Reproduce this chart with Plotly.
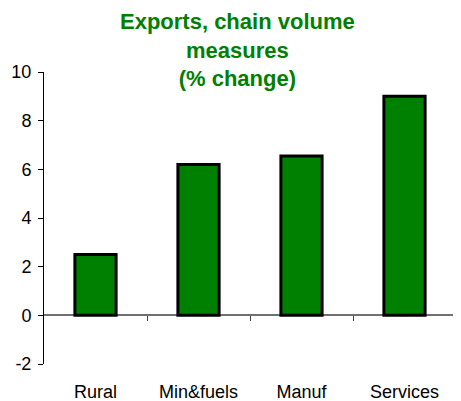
import plotly.graph_objects as go

categories = ["Rural", "Min&fuels", "Manuf", "Services"]
values = [2.5, 6.2, 6.55, 9.0]
y_ticks = [-2, 0, 2, 4, 6, 8, 10]
y_tick_labels = ["-2", "0", "2", "4", "6", "8", "10"]
boundaries = [0.5, 1.5, 2.5, 3.5]
title_text = "<b>Exports, chain volume<br>measures<br>(% change)</b>"

y_min, y_max = -2, 10
font_family = "Liberation Sans, Arial, sans-serif"

fig = go.Figure()
fig.add_trace(go.Bar(
    x=categories, y=values, width=0.4,
    marker=dict(color="#008000", line=dict(color="black", width=3)),
    hoverinfo="skip",
))
# helper trace so the zero-line category axis is drawn
fig.add_trace(go.Scatter(x=[], y=[], xaxis="x2", yaxis="y", showlegend=False, hoverinfo="skip"))

zero_pos = (0 - y_min) / (y_max - y_min)

fig.update_layout(
    width=461, height=401,
    margin=dict(l=36, r=13, t=64, b=45),
    paper_bgcolor="white", plot_bgcolor="white",
    showlegend=False,
    font=dict(family=font_family, size=18, color="black"),
    xaxis=dict(
        type="category", range=[-0.5, 3.5], automargin=False,
        showline=False, showgrid=False, zeroline=False,
        ticks="outside", ticklen=11, tickcolor="rgba(0,0,0,0)",
        tickfont=dict(size=18),
    ),
    xaxis2=dict(
        type="linear", range=[-0.5, 3.5], overlaying="x",
        anchor="free", position=zero_pos, automargin=False,
        showline=True, linecolor="#707070", linewidth=1.5,
        showgrid=False, zeroline=False, layer="below traces",
        tickvals=boundaries, ticks="outside", ticklen=5, tickcolor="#404040",
        showticklabels=False,
    ),
    yaxis=dict(
        range=[y_min, y_max], tickvals=y_ticks, ticktext=y_tick_labels,
        automargin=False,
        showline=True, linecolor="black", linewidth=1,
        ticks="outside", ticklen=5, tickcolor="black",
        ticklabelstandoff=3,
        showgrid=False, zeroline=False,
        tickfont=dict(size=18),
    ),
    annotations=[dict(
        text=title_text, showarrow=False,
        xref="paper", yref="paper",
        x=(237 - 44) / 412, xanchor="center",
        y=1 + 64 / 292, yanchor="top", borderpad=0,
        font=dict(family=font_family, size=22, color="#008000"),
    )],
)

fig.write_html("out.html")
